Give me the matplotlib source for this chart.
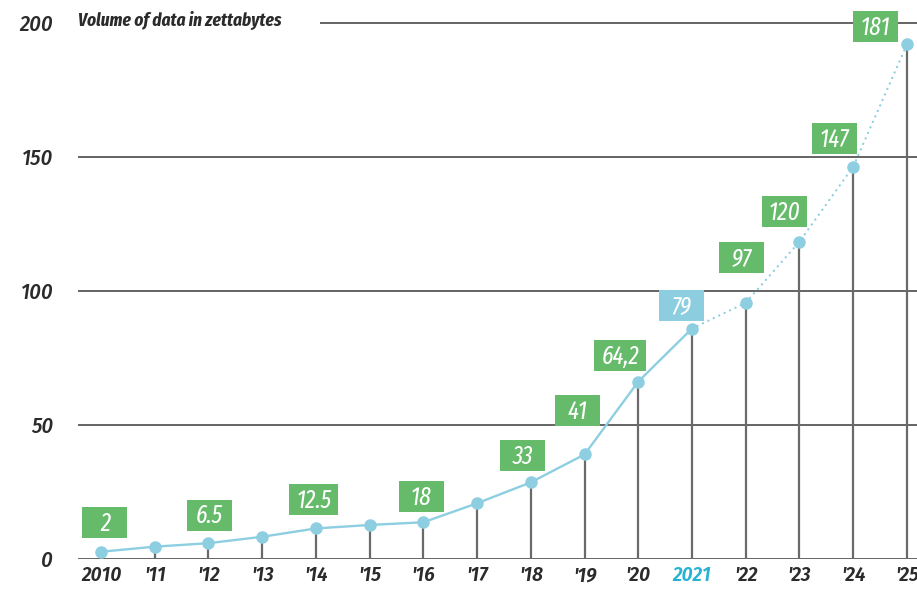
import matplotlib
matplotlib.use("Agg")
import matplotlib.pyplot as plt
from matplotlib.patches import Rectangle
from matplotlib.transforms import IdentityTransform

# ---- data ----
years = ["2010", "'11", "'12", "'13", "'14", "'15", "'16", "'17", "'18", "'19",
         "'20", "2021", "'22", "'23", "'24", "'25"]
values = [2.7, 4.6, 5.9, 8.3, 11.4, 12.7, 13.7, 20.8, 28.6, 39.0,
          66.2, 86.0, 95.6, 118.4, 146.4, 192.0]
labels = ["2", "", "6.5", "", "12.5", "", "18", "", "33", "41",
          "64,2", "79", "97", "120", "147", "181"]
yticks = [0, 50, 100, 150, 200]
title = "Volume of data in zettabytes"
current_year = "2021"

# ---- style ----
LINE = "#8dcfe1"
GREEN = "#66bb6a"
BLUE_BOX = "#8ccde0"
HILITE = "#27b2d3"
GRID = "#585858"
STEM = "#6a6a6a"
TXT = "#2b2b2b"
# label box offsets from the point, in pixels (dx, dy)
label_offsets = [(4, 29), None, (1, 28), None, (-2, 29), None, (-2, 26), None,
                 (-8, 27), (-7, 44), (-18, 26), (-11, 23), (-4, 45), (-15, 30),
                 (-19, 28), (-31, 18)]

DPI = 100
W, H = 917, 590
fig = plt.figure(figsize=(W / DPI, H / DPI), dpi=DPI)
ax = fig.add_axes([78 / W, 31 / H, 1 - 78 / W, 554 / H])
ax.set_xlim(-0.428, 15.187)
ax.set_ylim(0, 206.7)
for s in ax.spines.values():
    s.set_visible(False)

x = list(range(len(years)))
cur = years.index(current_year)

# gridlines
for yv in yticks[1:-1]:
    ax.axhline(yv, color=GRID, lw=1.3, zorder=1)
ax.axhline(0, color=GRID, lw=1.3, zorder=1)
ax.hlines(yticks[-1], 4.08, 15.187, color=GRID, lw=1.3, zorder=1)

# stems
ax.vlines(x, 0, values, color=STEM, lw=1.6, zorder=2)

# line: solid through current year, dotted after
ax.plot(x[:cur + 1], values[:cur + 1], color=LINE, lw=1.7, zorder=3,
        solid_capstyle="round")
ax.plot(x[cur:], values[cur:], color=LINE, lw=1.6, ls=(0, (0.1, 2.6)),
        zorder=3, dash_capstyle="round")
ax.plot(x, values, "o", color=LINE, ms=8, zorder=4)

# ticks
ax.set_yticks(yticks)
ax.set_yticklabels([str(t) for t in yticks], fontsize=16, color=TXT,
                   family="Fira Sans Condensed", style="italic", weight=500)
ax.tick_params(axis="y", length=0, pad=18)
ax.set_xticks(x)
ax.set_xticklabels(years, fontsize=15, color=TXT,
                   family="Fira Sans Condensed", style="italic", weight=600)
ax.tick_params(axis="x", length=0, pad=5)
ax.get_xticklabels()[cur].set_color(HILITE)

# title
fig.text(78 / W, 1 - 20 / H, title, fontsize=13.5, color=TXT,
         family="Fira Sans Extra Condensed", style="italic", weight=700,
         ha="left", va="center")

# value boxes
fig.canvas.draw()
renderer = fig.canvas.get_renderer()
for i, (lab, off) in enumerate(zip(labels, label_offsets)):
    if not lab:
        continue
    px, py = ax.transData.transform((x[i], values[i]))
    cx, cy = px + off[0], py + off[1]
    t = ax.text(cx, cy - 1, lab, transform=IdentityTransform(), ha="center",
                va="center", fontsize=18, color="white",
                family="Fira Sans Extra Condensed", style="italic", weight=400,
                zorder=7)
    tw = t.get_window_extent(renderer).width
    bw = max(45, tw + 14)
    bh = 31
    ax.add_patch(Rectangle((cx - bw / 2, cy - bh / 2), bw, bh,
                           transform=IdentityTransform(),
                           facecolor=BLUE_BOX if i == cur else GREEN,
                           edgecolor="none", zorder=6, clip_on=False))

fig.savefig("out.png", dpi=DPI)
